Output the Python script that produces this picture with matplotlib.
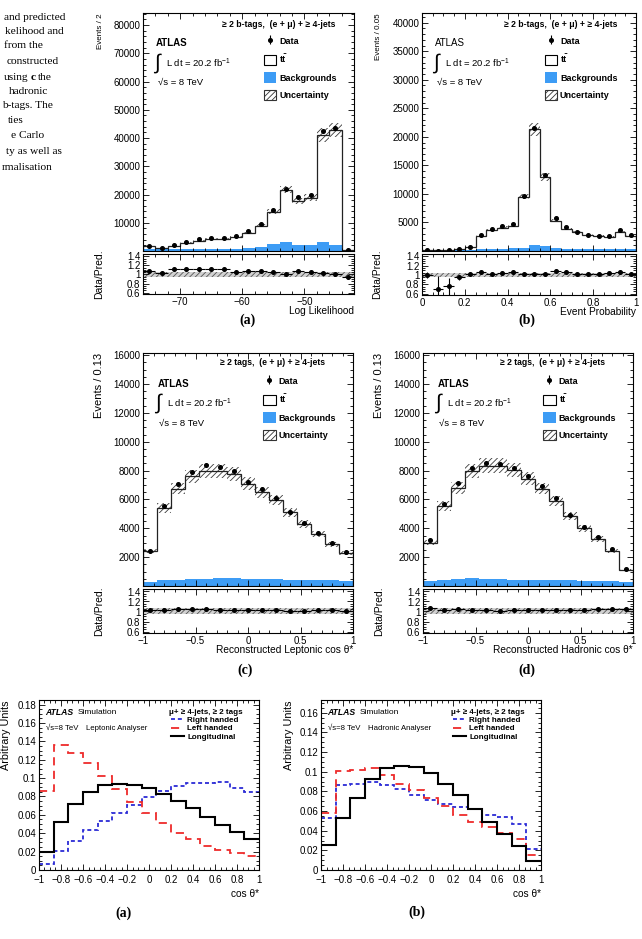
"""ATLAS-style figure: data/MC comparison (a-d) and helicity templates (a,b)."""
import numpy as np
import matplotlib
matplotlib.use("Agg")
import matplotlib.pyplot as plt
from matplotlib.patches import Patch
from matplotlib.lines import Line2D
from matplotlib.ticker import MultipleLocator, FuncFormatter

plt.rcParams["font.family"] = ["Liberation Sans", "DejaVu Sans"]
plt.rcParams["mathtext.fontset"] = "custom"
plt.rcParams["mathtext.rm"] = "Liberation Sans"
plt.rcParams["mathtext.it"] = "Liberation Sans:italic"
plt.rcParams["mathtext.bf"] = "Liberation Sans:bold"
plt.rcParams["hatch.linewidth"] = 0.6
plt.rcParams["axes.linewidth"] = 0.8

W, H = 642, 939
BKG_BLUE = "#3d9cf5"

# (a) log likelihood, bins of 2
LL_EDGES = np.arange(-76, -41, 2)
LL_MC = [1700, 1100, 1800, 3000, 3700, 4200, 4200, 5000, 6500, 8900,
         13900, 21700, 17700, 18900, 41000, 42800, 500]
LL_BKG = [800, 700, 700, 700, 700, 700, 700, 800, 900, 1400,
          2500, 3300, 2200, 2200, 3300, 2000, 300]
LL_RATIO = [1.07, 1.04, 1.13, 1.12, 1.13, 1.11, 1.11, 1.05, 1.07, 1.08,
            1.05, 1.02, 1.08, 1.05, 1.04, 1.02, 0.95]
LL_RERR = [0.03, 0.03, 0.02, 0.02, 0.02, 0.02, 0.02, 0.02, 0.02, 0.01,
           0.01, 0.01, 0.01, 0.01, 0.01, 0.01, 0.04]

# (b) event probability, bins of 0.05
EP_EDGES = np.linspace(0, 1, 21)
EP_MC = [100, 100, 200, 300, 700, 2600, 3700, 4100, 4400, 9500,
         21300, 13000, 5300, 3900, 3300, 2800, 2600, 2500, 3400, 2700]
EP_BKG = [50, 50, 100, 150, 250, 350, 400, 400, 450, 600,
          1000, 800, 500, 400, 350, 350, 350, 350, 350, 350]
EP_RATIO = [1.00, 0.70, 0.76, 0.95, 1.03, 1.06, 1.02, 1.05, 1.06, 1.02,
            1.01, 1.02, 1.09, 1.07, 1.03, 1.03, 1.03, 1.05, 1.07, 1.03]
EP_RERR = [0.06, 0.28, 0.18, 0.05, 0.02, 0.02, 0.02, 0.02, 0.02, 0.01,
           0.01, 0.01, 0.02, 0.02, 0.02, 0.02, 0.02, 0.02, 0.02, 0.02]

# (c),(d) reconstructed cos theta*, 15 bins
COS_EDGES = np.linspace(-1, 1, 16)
LEP_MC = [2400, 5400, 6750, 7600, 8000, 8000, 7750, 7100, 6500, 5950,
          5100, 4300, 3600, 2900, 2300]
LEP_BKG = [300, 400, 450, 500, 500, 550, 550, 500, 500, 500,
           450, 450, 400, 400, 350]
LEP_RATIO = [1.02, 1.03, 1.05, 1.04, 1.05, 1.03, 1.03, 1.02, 1.03, 1.03,
             1.01, 1.01, 1.02, 1.02, 1.01]
HAD_MC = [3000, 5550, 6800, 7950, 8350, 8350, 8050, 7450, 6750, 5900,
          4850, 4000, 3250, 2450, 1100]
HAD_BKG = [350, 450, 500, 550, 500, 500, 450, 450, 400, 400,
           400, 350, 350, 350, 300]
HAD_RATIO = [1.06, 1.02, 1.05, 1.03, 1.02, 1.01, 1.02, 1.02, 1.03, 1.03,
             1.02, 1.03, 1.04, 1.05, 1.04]
COS_RERR = [0.015] * 15

# bottom: helicity templates (arbitrary units)
LEP_RIGHT = [0.007, 0.021, 0.032, 0.043, 0.053, 0.062, 0.071, 0.079, 0.086,
             0.091, 0.095, 0.095, 0.096, 0.089, 0.085]
LEP_LEFT = [0.086, 0.136, 0.127, 0.116, 0.102, 0.088, 0.074, 0.062, 0.051,
            0.040, 0.034, 0.026, 0.022, 0.018, 0.015]
LEP_LONG = [0.020, 0.052, 0.072, 0.085, 0.092, 0.094, 0.093, 0.089, 0.083,
            0.075, 0.067, 0.058, 0.049, 0.041, 0.034]
HAD_RIGHT = [0.053, 0.086, 0.088, 0.090, 0.086, 0.082, 0.076, 0.071, 0.067,
             0.064, 0.062, 0.056, 0.054, 0.047, 0.021]
HAD_LEFT = [0.058, 0.101, 0.102, 0.104, 0.097, 0.088, 0.081, 0.073, 0.065,
            0.056, 0.049, 0.044, 0.038, 0.032, 0.015]
HAD_LONG = [0.025, 0.053, 0.073, 0.093, 0.104, 0.106, 0.105, 0.099, 0.088,
            0.076, 0.062, 0.049, 0.037, 0.024, 0.009]

CAPTION = [("and predicted", 65, 17), ("kelihood and", 64, 32), ("from the", 43, 46),
           ("constructed", 59, 62), (None, 52, 77), ("hadronic", 48, 91),
           ("b-tags. The", 53, 106), ("ties", 24, 121), ("e Carlo", 44, 136),
           ("ty as well as", 62, 151), ("rmalisation", 53, 167)]


def box(x0, y0, x1, y1):
    return [x0 / W, 1 - y1 / H, (x1 - x0) / W, (y1 - y0) / H]


def num(v, _=None):
    if abs(v) < 1e-9:
        return "0"
    return f"{v:g}".replace("-", "\u2212")


def ticks(ax, xmaj, xmin, ymaj, ymin, size=7):
    ax.xaxis.set_major_locator(MultipleLocator(xmaj))
    ax.xaxis.set_minor_locator(MultipleLocator(xmin))
    ax.yaxis.set_major_locator(MultipleLocator(ymaj))
    ax.yaxis.set_minor_locator(MultipleLocator(ymin))
    ax.tick_params(which="both", direction="in", top=True, right=True,
                   width=0.6, labelsize=size, pad=2)
    ax.tick_params(which="major", length=4.5)
    ax.tick_params(which="minor", length=2.3)
    ax.xaxis.set_major_formatter(FuncFormatter(num))


def stack_panel(fig, mbox, rbox, edges, mc, bkg, ratio, rerr, unc, ymax,
                ymaj, ymin, xmaj, xmin, ylab, ylab_size, xlab, xlab_y,
                header, head_x, atlas_bold, tx, leg_y):
    mc = np.asarray(mc, float)
    ratio = np.asarray(ratio, float)
    rerr = np.asarray(rerr, float)
    centers = 0.5 * (edges[:-1] + edges[1:])
    half = 0.5 * np.diff(edges)
    n = len(mc)

    ax = fig.add_axes(mbox)
    ax.stairs(bkg, edges, fill=True, color=BKG_BLUE, lw=0)
    ax.stairs(mc * (1 + unc), edges, baseline=mc * (1 - unc), fill=True,
              facecolor="none", edgecolor="#3a3a3a", hatch="//////", lw=0)
    ax.stairs(mc, edges, color="#222222", lw=0.9)
    dat = ax.errorbar(centers, mc * ratio, yerr=mc * rerr, fmt="o", ms=2.6,
                      color="black", elinewidth=0.8, capsize=0, zorder=5)
    ax.set_xlim(edges[0], edges[-1])
    ax.set_ylim(0, ymax)
    ticks(ax, xmaj, xmin, ymaj, ymin)
    ax.yaxis.set_major_formatter(FuncFormatter(lambda v, _: "" if v <= 0 else f"{v:g}"))
    ax.tick_params(labelbottom=False)
    ax.set_ylabel(ylab, loc="top", fontsize=ylab_size)
    ax.yaxis.set_label_coords(-0.185, 1.0)

    ax.text(head_x, tx["head"], header, transform=ax.transAxes, ha="left",
            va="center", fontsize=6.2, fontweight="bold")
    ax.text(tx["x"], tx["atlas"], "ATLAS", transform=ax.transAxes, va="center",
            fontsize=7, fontweight="bold" if atlas_bold else "normal")
    ax.text(tx["x"] - 0.01, tx["lumi"], "\u222b", transform=ax.transAxes,
            va="center", fontsize=15)
    ax.text(tx["x"] + 0.045, tx["lumi"], r"L dt = 20.2 fb$^{-1}$",
            transform=ax.transAxes, va="center", fontsize=6.8)
    ax.text(tx["x"] + 0.008, tx["sqrt"], "\u221as = 8 TeV",
            transform=ax.transAxes, va="center", fontsize=6.8)

    handles = [dat, Patch(facecolor="white", edgecolor="black", lw=0.8),
               Patch(facecolor=BKG_BLUE, edgecolor=BKG_BLUE, lw=0),
               Patch(facecolor="white", edgecolor="#333333", hatch="//////", lw=0.8)]
    names = ["Data", r"$\mathbf{t\bar{t}}$", "Backgrounds", "Uncertainty"]
    ax.legend(handles, names, loc="upper left", bbox_to_anchor=(0.573, leg_y),
              frameon=False, borderpad=0, borderaxespad=0, handlelength=1.35,
              handleheight=1.45, labelspacing=0.75, handletextpad=0.35,
              prop={"weight": "bold", "size": 6.5})

    rx = fig.add_axes(rbox)
    rx.stairs(np.full(n, 1 + unc), edges, baseline=np.full(n, 1 - unc), fill=True,
              facecolor="#d2d2d2", edgecolor="#555555", hatch="//////", lw=0)
    rx.errorbar(centers, ratio, xerr=half, yerr=rerr, fmt="o", ms=2.6,
                color="black", elinewidth=0.8, capsize=0, zorder=5)
    rx.set_xlim(edges[0], edges[-1])
    rx.set_ylim(0.57, 1.45)
    ticks(rx, xmaj, xmin, 0.2, 0.05)
    rx.yaxis.set_major_formatter(FuncFormatter(num))
    rx.set_ylabel("Data/Pred.", fontsize=7.5)
    rx.yaxis.set_label_coords(-0.185, 0.5)
    rx.set_xlabel(xlab, loc="right", fontsize=7.3)
    rx.xaxis.set_label_coords(1.0, xlab_y)
    return ax


def template_panel(fig, pbox, right, left, longi, ymax, analyser):
    ax = fig.add_axes(pbox)
    ax.stairs(right, COS_EDGES, baseline=None, color="#2b2bd6", lw=1.3,
              ls=(0, (2.2, 1.6)))
    ax.stairs(left, COS_EDGES, baseline=None, color="#ee2b2b", lw=1.3,
              ls=(0, (4.5, 3)))
    ax.stairs(longi, COS_EDGES, baseline=None, color="black", lw=1.5)
    ax.set_xlim(-1, 1)
    ax.set_ylim(0, ymax)
    ticks(ax, 0.2, 0.05, 0.02, 0.005)
    ax.tick_params(axis="x", pad=3.5)
    ax.yaxis.set_major_formatter(FuncFormatter(num))
    ax.set_ylabel("Arbitrary Units", loc="top", fontsize=7.8)
    ax.yaxis.set_label_coords(-0.125, 1.0)
    ax.set_xlabel("cos \u03b8*", loc="right", fontsize=7.3)
    ax.xaxis.set_label_coords(1.0, -0.11)

    ax.text(0.027, 0.929, "ATLAS", transform=ax.transAxes, va="center",
            fontsize=6.2, fontweight="bold", fontstyle="italic")
    ax.text(0.177, 0.929, "Simulation", transform=ax.transAxes, va="center", fontsize=6)
    ax.text(0.03, 0.835, "\u221as=8 TeV", transform=ax.transAxes, va="center", fontsize=5.6)
    ax.text(0.214, 0.835, analyser, transform=ax.transAxes, va="center", fontsize=5.6)
    ax.text(0.59, 0.929, "\u03bc+ \u2265 4-jets, \u2265 2 tags", transform=ax.transAxes,
            va="center", fontsize=5.8, fontweight="bold")
    handles = [Line2D([], [], color="#2b2bd6", lw=1.3, ls=(0, (2.2, 1.6))),
               Line2D([], [], color="#ee2b2b", lw=1.3, ls=(0, (4.5, 3))),
               Line2D([], [], color="black", lw=1.5)]
    ax.legend(handles, ["Right handed", "Left handed", "Longitudinal"],
              loc="upper left", bbox_to_anchor=(0.6, 0.905), frameon=False,
              borderpad=0, borderaxespad=0, handlelength=1.6, handletextpad=0.4,
              labelspacing=0.12, prop={"weight": "bold", "size": 5.8})
    return ax


def caption(fig):
    r = fig.canvas.get_renderer()
    kw = dict(family="Liberation Serif", fontsize=8.2, va="center", ha="right")
    for text, xr, y in CAPTION:
        if text is not None:
            fig.text(xr / W, 1 - y / H, text, **kw)
            continue
        # "using c the" with a bold c
        t = fig.text(xr / W, 1 - y / H, "the", **kw)
        x0 = t.get_window_extent(r).x0 - 2.5
        t = fig.text(x0 / W, 1 - y / H, "c", fontweight="bold", **kw)
        x0 = t.get_window_extent(r).x0 - 2.5
        fig.text(x0 / W, 1 - y / H, "using", **kw)


def main():
    fig = plt.figure(figsize=(W / 100, H / 100), dpi=100)

    top_tx = dict(x=0.062, head=0.950, atlas=0.874, lumi=0.788, sqrt=0.71)
    mid_tx = dict(x=0.069, head=0.961, atlas=0.867, lumi=0.785, sqrt=0.70)
    head_b = "\u2265 2 b-tags,  (e + \u03bc) + \u2265 4-jets"
    head_t = "\u2265 2 tags,  (e + \u03bc) + \u2265 4-jets"

    stack_panel(fig, box(143, 13, 354, 251), box(143, 254, 354, 294), LL_EDGES,
                LL_MC, LL_BKG, LL_RATIO, LL_RERR, 0.06, 84300, 10000, 2000, 10, 2,
                "Events / 2", 5.8, "Log Likelihood", -0.3, head_b, 0.374, True,
                top_tx, 0.905)
    stack_panel(fig, box(422, 13, 636, 251), box(422, 254, 636, 295), EP_EDGES,
                EP_MC, EP_BKG, EP_RATIO, EP_RERR, 0.05, 41700, 5000, 1000, 0.2, 0.05,
                "Events / 0.05", 5.8, "Event Probability", -0.3, head_b, 0.383, False,
                top_tx, 0.905)
    stack_panel(fig, box(143, 353, 353, 586), box(143, 589, 353, 633), COS_EDGES,
                LEP_MC, LEP_BKG, LEP_RATIO, COS_RERR, 0.06, 16150, 2000, 500, 0.5, 0.1,
                "Events / 0.13", 8, "Reconstructed Leptonic cos \u03b8*", -0.27,
                head_t, 0.367, True, mid_tx, 0.903)
    stack_panel(fig, box(423, 353, 633, 586), box(423, 589, 633, 633), COS_EDGES,
                HAD_MC, HAD_BKG, HAD_RATIO, COS_RERR, 0.06, 16150, 2000, 500, 0.5, 0.1,
                "Events / 0.13", 8, "Reconstructed Hadronic cos \u03b8*", -0.27,
                head_t, 0.367, True, mid_tx, 0.903)

    template_panel(fig, box(39, 700, 259, 870), LEP_RIGHT, LEP_LEFT, LEP_LONG,
                   0.185, "Leptonic Analyser")
    template_panel(fig, box(321, 700, 541, 870), HAD_RIGHT, HAD_LEFT, HAD_LONG,
                   0.173, "Hadronic Analyser")

    letters = [("(a)", 247, 320), ("(b)", 527, 320), ("(c)", 245, 670),
               ("(d)", 527, 670), ("(a)", 123, 913), ("(b)", 417, 912)]
    for s, x, y in letters:
        fig.text(x / W, 1 - y / H, s, family="Liberation Serif", fontweight="bold",
                 fontsize=10, ha="center", va="center")

    caption(fig)
    fig.savefig("out.png", dpi=100)


if __name__ == "__main__":
    main()
